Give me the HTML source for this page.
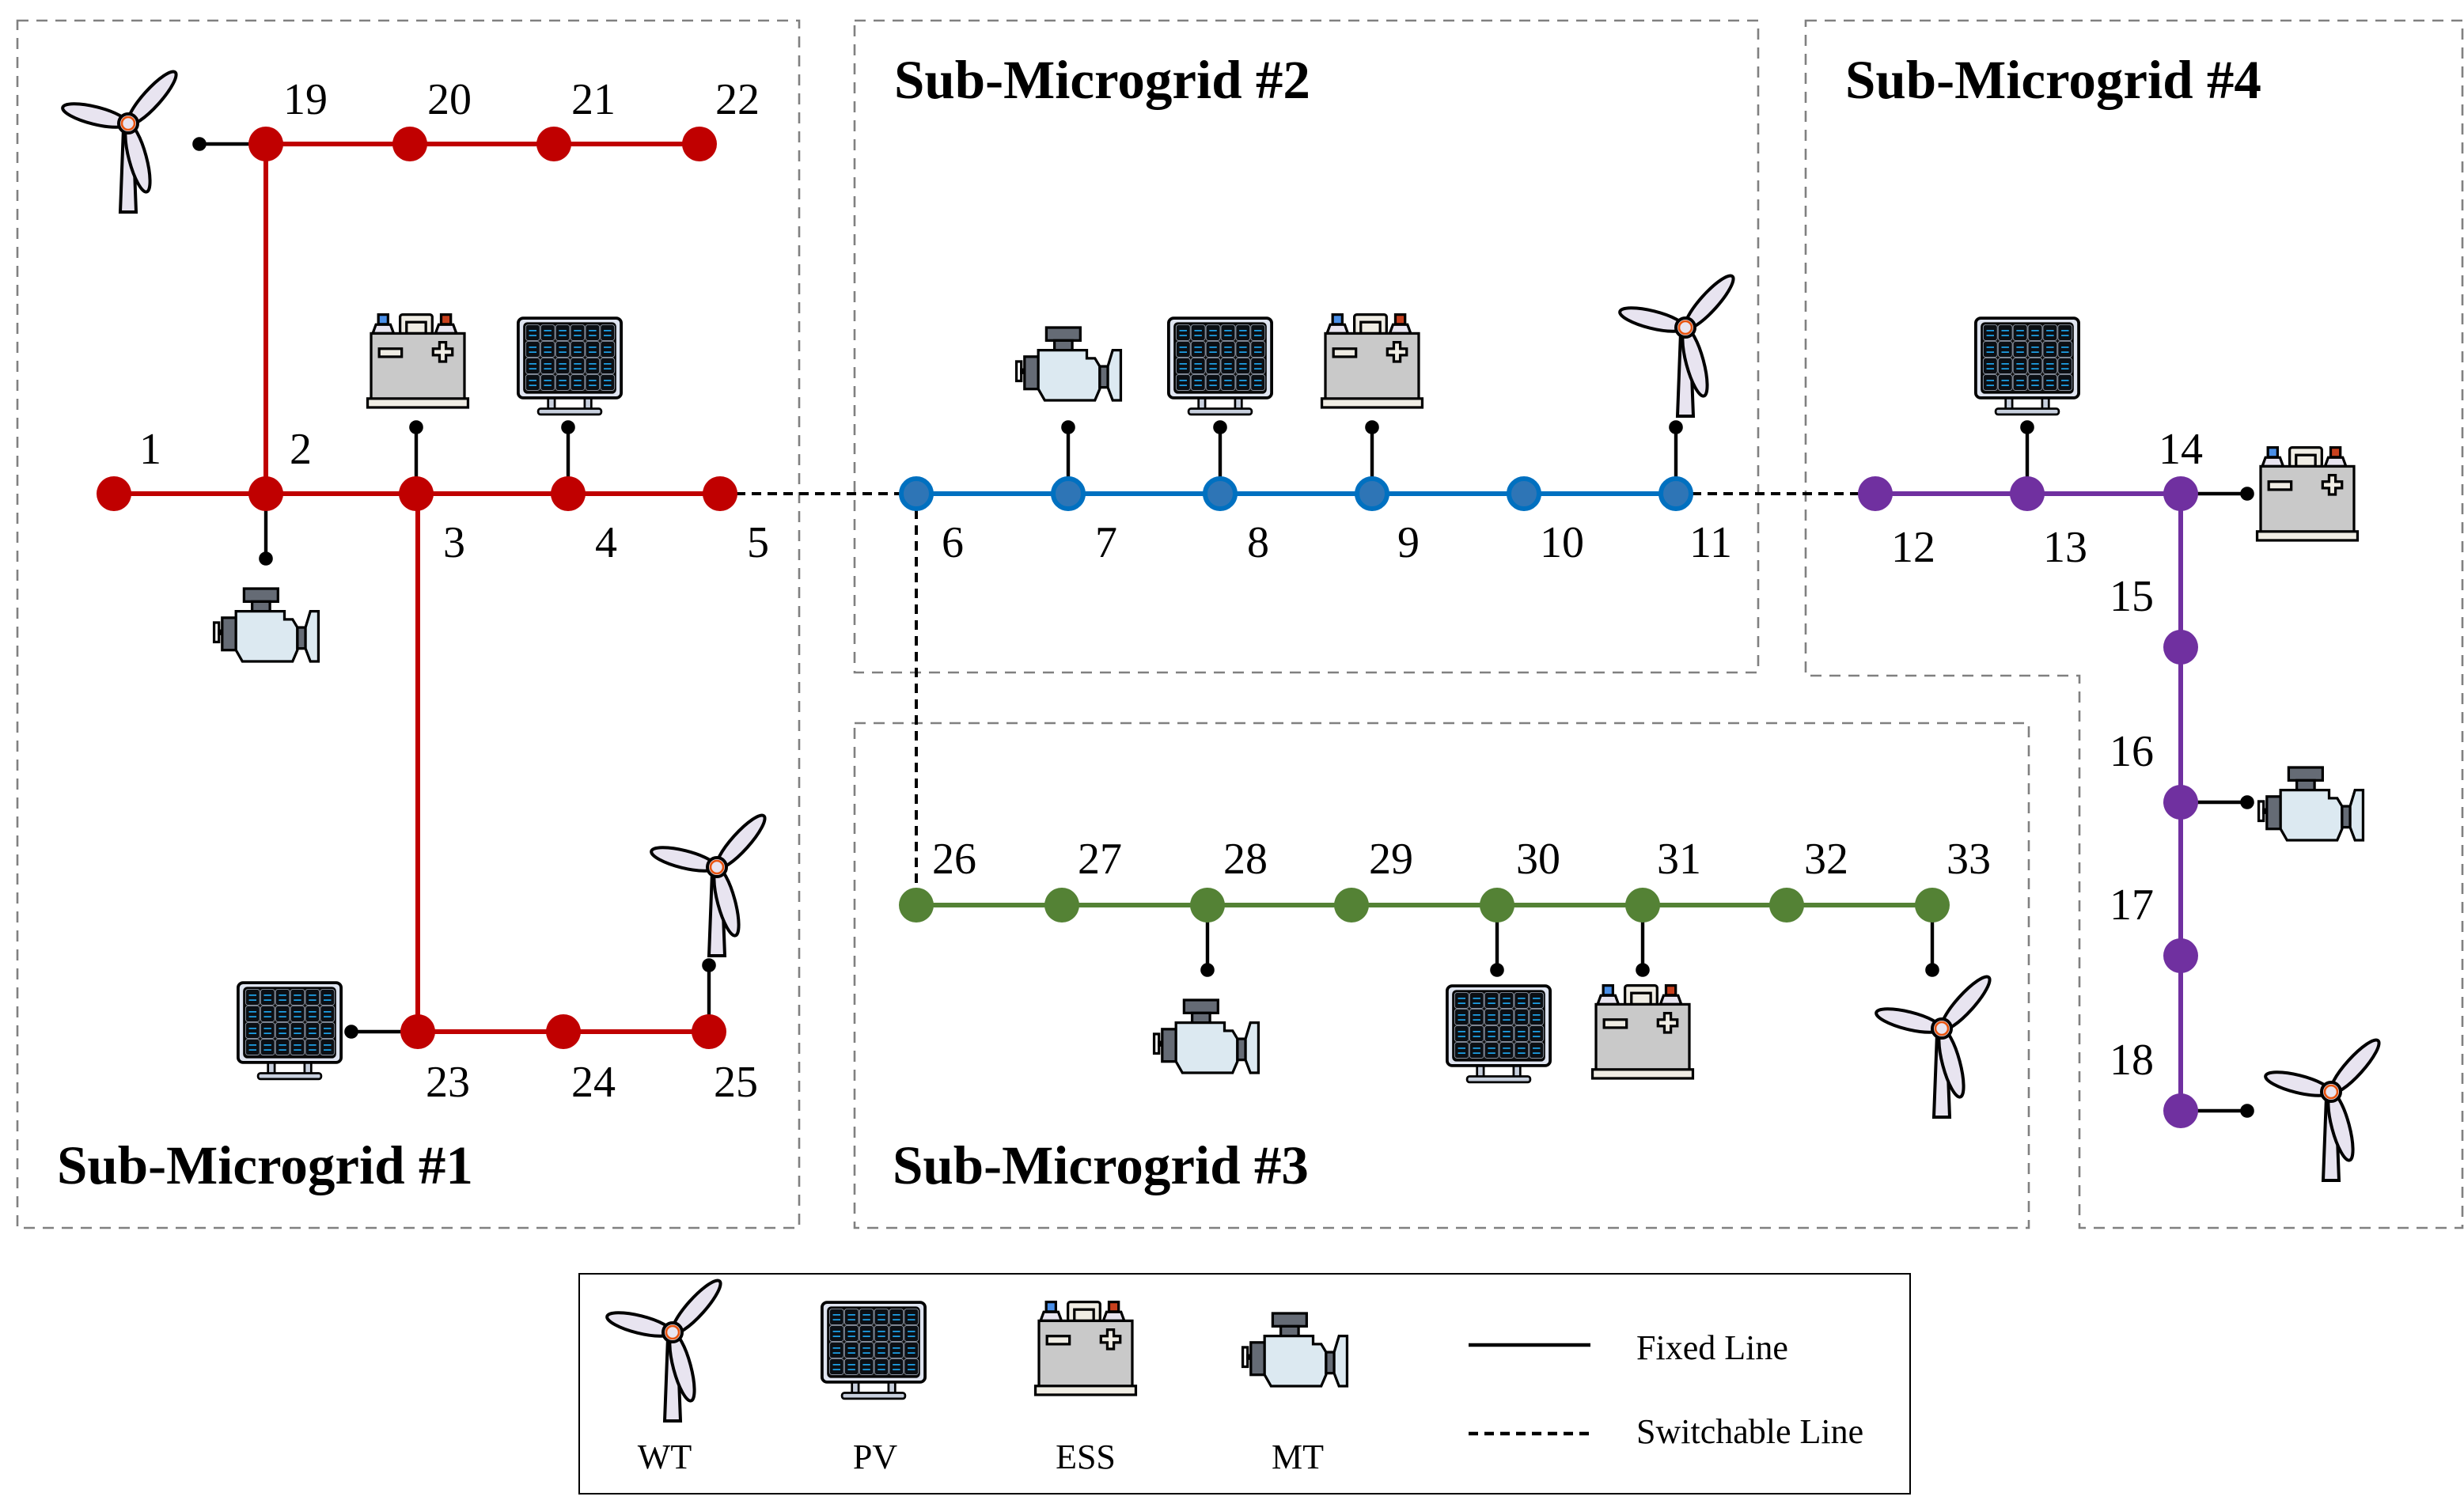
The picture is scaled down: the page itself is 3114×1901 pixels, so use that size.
<!DOCTYPE html>
<html><head><meta charset="utf-8"><style>html,body{margin:0;padding:0;background:#fff}svg{display:block}</style></head>
<body>
<svg xmlns="http://www.w3.org/2000/svg" xmlns:xlink="http://www.w3.org/1999/xlink" width="3114" height="1901" viewBox="0 0 1557 950.5">
<defs>
<symbol id="mt" viewBox="0 0 65 45" overflow="visible">
 <g stroke="#000" stroke-width="1.6" stroke-linejoin="miter">
 <rect x="0.5" y="21" width="3" height="12" fill="#fff"/>
 <rect x="3.5" y="26" width="2" height="2" fill="#000"/>
 <rect x="5.5" y="18" width="8.5" height="20" fill="#656b75"/>
 <rect x="19" y="0" width="21" height="8" fill="#656b75"/>
 <rect x="24" y="8" width="11" height="6" fill="#656b75"/>
 <polygon points="14,14 44,14 44,19 49,19 52,24 52,38 49,45 18,45 14,38" fill="#dce9f1"/>
 <rect x="52" y="24" width="5" height="13" fill="#656b75"/>
 <polygon points="57,24 60,14 65,14 65,45 60,45 57,37" fill="#dce9f1"/>
 </g>
</symbol>
<symbol id="pv" viewBox="0 0 64 60" overflow="visible">
 <rect x="19" y="48" width="4" height="8" fill="#c8d0de" stroke="#000" stroke-width="1.3"/>
 <rect x="41" y="48" width="4" height="8" fill="#c8d0de" stroke="#000" stroke-width="1.3"/>
 <rect x="13" y="55.5" width="38" height="3.5" rx="1.5" fill="#c8d0de" stroke="#000" stroke-width="1.3"/>
 <rect x="1" y="1" width="62" height="48" rx="3" fill="#dfe4f0" stroke="#000" stroke-width="1.8"/>
 <rect x="4.5" y="4" width="55" height="42" rx="2" fill="#111" stroke="#000" stroke-width="1"/>
 <g fill="#0b0f14" stroke="#9aa3b2" stroke-width="0.4">
  <rect x="5.5" y="5" width="8.5" height="9.5" rx="1.5"/><rect x="14.5" y="5" width="8.5" height="9.5" rx="1.5"/><rect x="23.5" y="5" width="8.5" height="9.5" rx="1.5"/><rect x="32.5" y="5" width="8.5" height="9.5" rx="1.5"/><rect x="41.5" y="5" width="8.5" height="9.5" rx="1.5"/><rect x="50.5" y="5" width="8.5" height="9.5" rx="1.5"/>
  <rect x="5.5" y="15" width="8.5" height="9.5" rx="1.5"/><rect x="14.5" y="15" width="8.5" height="9.5" rx="1.5"/><rect x="23.5" y="15" width="8.5" height="9.5" rx="1.5"/><rect x="32.5" y="15" width="8.5" height="9.5" rx="1.5"/><rect x="41.5" y="15" width="8.5" height="9.5" rx="1.5"/><rect x="50.5" y="15" width="8.5" height="9.5" rx="1.5"/>
  <rect x="5.5" y="25" width="8.5" height="9.5" rx="1.5"/><rect x="14.5" y="25" width="8.5" height="9.5" rx="1.5"/><rect x="23.5" y="25" width="8.5" height="9.5" rx="1.5"/><rect x="32.5" y="25" width="8.5" height="9.5" rx="1.5"/><rect x="41.5" y="25" width="8.5" height="9.5" rx="1.5"/><rect x="50.5" y="25" width="8.5" height="9.5" rx="1.5"/>
  <rect x="5.5" y="35" width="8.5" height="9.5" rx="1.5"/><rect x="14.5" y="35" width="8.5" height="9.5" rx="1.5"/><rect x="23.5" y="35" width="8.5" height="9.5" rx="1.5"/><rect x="32.5" y="35" width="8.5" height="9.5" rx="1.5"/><rect x="41.5" y="35" width="8.5" height="9.5" rx="1.5"/><rect x="50.5" y="35" width="8.5" height="9.5" rx="1.5"/>
 </g>
 <g stroke="#1ea0e6" stroke-width="0.8">
  <path d="M7.5 8.5h4.5M16.5 8.5h4.5M25.5 8.5h4.5M34.5 8.5h4.5M43.5 8.5h4.5M52.5 8.5h4.5M7.5 11.5h4.5M16.5 11.5h4.5M25.5 11.5h4.5M34.5 11.5h4.5M43.5 11.5h4.5M52.5 11.5h4.5"/>
  <path d="M7.5 18.5h4.5M16.5 18.5h4.5M25.5 18.5h4.5M34.5 18.5h4.5M43.5 18.5h4.5M52.5 18.5h4.5M7.5 21.5h4.5M16.5 21.5h4.5M25.5 21.5h4.5M34.5 21.5h4.5M43.5 21.5h4.5M52.5 21.5h4.5"/>
  <path d="M7.5 28.5h4.5M16.5 28.5h4.5M25.5 28.5h4.5M34.5 28.5h4.5M43.5 28.5h4.5M52.5 28.5h4.5M7.5 31.5h4.5M16.5 31.5h4.5M25.5 31.5h4.5M34.5 31.5h4.5M43.5 31.5h4.5M52.5 31.5h4.5"/>
  <path d="M7.5 38.5h4.5M16.5 38.5h4.5M25.5 38.5h4.5M34.5 38.5h4.5M43.5 38.5h4.5M52.5 38.5h4.5M7.5 41.5h4.5M16.5 41.5h4.5M25.5 41.5h4.5M34.5 41.5h4.5M43.5 41.5h4.5M52.5 41.5h4.5"/>
 </g>
</symbol>
<symbol id="ess" viewBox="0 0 64 59" overflow="visible">
 <g stroke="#000" stroke-width="1.6">
 <rect x="21" y="0.8" width="20" height="12" rx="1.5" fill="#f0ede4"/>
 <rect x="25" y="5.5" width="12" height="7" fill="#f0ede4"/>
 <rect x="7.5" y="0.8" width="6" height="6" fill="#4a8fe8"/>
 <polygon points="6,7 15,7 17,12.5 4,12.5" fill="#e8e4f0"/>
 <rect x="46.5" y="0.8" width="6" height="6" fill="#c8401e"/>
 <polygon points="45,7 54,7 56,12.5 43,12.5" fill="#e8e4f0"/>
 <rect x="3" y="12.5" width="58" height="41" fill="#c9c9c9"/>
 <rect x="0.8" y="53" width="62.4" height="5.5" fill="#f0ede4"/>
 <rect x="8" y="22" width="14" height="5" fill="#f0ede4"/>
 <polygon points="45.5,18 49.5,18 49.5,22 53.5,22 53.5,26 49.5,26 49.5,30 45.5,30 45.5,26 41.5,26 41.5,22 45.5,22" fill="#f0ede4"/>
 </g>
</symbol>
<symbol id="wt" viewBox="-45 -35 80 95" overflow="visible">
 <g stroke="#000" stroke-width="2" fill="#e8e4f0">
 <polygon points="-3,3 3,3 5,56 -5,56"/>
 <ellipse cx="15" cy="-16" rx="22" ry="5.5" transform="rotate(-48 15 -16)"/>
 <ellipse cx="-21" cy="-5" rx="21" ry="5.5" transform="rotate(14 -21 -5)"/>
 <ellipse cx="6" cy="22" rx="22" ry="5.5" transform="rotate(75 6 22)"/>
 <circle cx="0" cy="0" r="6" fill="#e8e4f0"/>
 </g>
 <circle cx="0" cy="0" r="4" fill="none" stroke="#e8530e" stroke-width="1.3"/>
</symbol>
</defs>

<g fill="none" stroke="#808080" stroke-width="1.3" stroke-dasharray="7,5">
 <rect x="11" y="13" width="494" height="763"/>
 <rect x="540" y="13" width="571" height="412"/>
 <path d="M1141 13 H1556 V776 H1314 V427 H1141 Z"/>
 <rect x="540" y="457" width="742" height="319"/>
</g>
<rect x="366" y="805" width="841" height="139" fill="none" stroke="#000" stroke-width="1"/>

<g font-family="Liberation Serif, serif" font-weight="bold" font-size="34.5" fill="#000">
 <text x="36" y="748">Sub-Microgrid #1</text>
 <text x="565" y="62">Sub-Microgrid #2</text>
 <text x="1166" y="62">Sub-Microgrid #4</text>
 <text x="564" y="748">Sub-Microgrid #3</text>
</g>

<g stroke="#000" stroke-width="2" stroke-dasharray="6,4" fill="none">
 <path d="M455 312 H579"/><path d="M1059 312 H1185"/><path d="M579 312 V572"/>
</g>

<g stroke="#000" stroke-width="2.2" fill="#000">
 <path d="M126 91 H168"/><circle cx="126" cy="91" r="3.3"/>
 <path d="M263 270 V312"/><circle cx="263" cy="270" r="3.3"/>
 <path d="M359 270 V312"/><circle cx="359" cy="270" r="3.3"/>
 <path d="M168 312 V353"/><circle cx="168" cy="353" r="3.3"/>
 <path d="M222 652 H264"/><circle cx="222" cy="652" r="3.3"/>
 <path d="M448 610 V652"/><circle cx="448" cy="610" r="3.3"/>
 <path d="M675 270 V312"/><circle cx="675" cy="270" r="3.3"/>
 <path d="M771 270 V312"/><circle cx="771" cy="270" r="3.3"/>
 <path d="M867 270 V312"/><circle cx="867" cy="270" r="3.3"/>
 <path d="M1059 270 V312"/><circle cx="1059" cy="270" r="3.3"/>
 <path d="M1281 270 V312"/><circle cx="1281" cy="270" r="3.3"/>
 <path d="M1378 312 H1420"/><circle cx="1420" cy="312" r="3.3"/>
 <path d="M1378 507 H1420"/><circle cx="1420" cy="507" r="3.3"/>
 <path d="M1378 702 H1420"/><circle cx="1420" cy="702" r="3.3"/>
 <path d="M763 572 V613"/><circle cx="763" cy="613" r="3.3"/>
 <path d="M946 572 V613"/><circle cx="946" cy="613" r="3.3"/>
 <path d="M1038 572 V613"/><circle cx="1038" cy="613" r="3.3"/>
 <path d="M1221 572 V613"/><circle cx="1221" cy="613" r="3.3"/>
</g>

<g stroke="#c00000" stroke-width="3" fill="none">
 <path d="M72 312 H455"/><path d="M168 91 H442"/><path d="M168 91 V312"/><path d="M264 312 V652"/><path d="M264 652 H448"/>
</g>
<g fill="#c00000">
 <ellipse cx="72" cy="312" rx="11" ry="11"/><ellipse cx="168" cy="312" rx="11" ry="11"/><ellipse cx="263" cy="312" rx="11" ry="11"/><ellipse cx="359" cy="312" rx="11" ry="11"/><ellipse cx="455" cy="312" rx="11" ry="11"/>
 <ellipse cx="168" cy="91" rx="11" ry="11"/><ellipse cx="259" cy="91" rx="11" ry="11"/><ellipse cx="350" cy="91" rx="11" ry="11"/><ellipse cx="442" cy="91" rx="11" ry="11"/>
 <ellipse cx="264" cy="652" rx="11" ry="11"/><ellipse cx="356" cy="652" rx="11" ry="11"/><ellipse cx="448" cy="652" rx="11" ry="11"/>
</g>

<path d="M579 312 H1059" stroke="#0070c0" stroke-width="3"/>
<g fill="#2e75b6" stroke="#0070c0" stroke-width="3">
 <circle cx="579" cy="312" r="9.5"/><circle cx="675" cy="312" r="9.5"/><circle cx="771" cy="312" r="9.5"/><circle cx="867" cy="312" r="9.5"/><circle cx="963" cy="312" r="9.5"/><circle cx="1059" cy="312" r="9.5"/>
</g>

<g stroke="#7030a0" stroke-width="3"><path d="M1185 312 H1378"/><path d="M1378 312 V702"/></g>
<g fill="#7030a0">
 <circle cx="1185" cy="312" r="11"/><circle cx="1281" cy="312" r="11"/><circle cx="1378" cy="312" r="11"/><circle cx="1378" cy="409" r="11"/><circle cx="1378" cy="507" r="11"/><circle cx="1378" cy="604" r="11"/><circle cx="1378" cy="702" r="11"/>
</g>

<path d="M579 572 H1221" stroke="#548235" stroke-width="3"/>
<g fill="#548235">
 <circle cx="579" cy="572" r="11"/><circle cx="671" cy="572" r="11"/><circle cx="763" cy="572" r="11"/><circle cx="854" cy="572" r="11"/><circle cx="946" cy="572" r="11"/><circle cx="1038" cy="572" r="11"/><circle cx="1129" cy="572" r="11"/><circle cx="1221" cy="572" r="11"/>
</g>

<use xlink:href="#wt" x="36" y="43" width="80" height="95"/>
<use xlink:href="#ess" x="230" y="198" width="68" height="60"/>
<use xlink:href="#pv" x="326" y="200" width="68" height="63"/>
<use xlink:href="#mt" x="133" y="372" width="70" height="46"/>
<use xlink:href="#pv" x="149" y="620" width="68" height="63"/>
<use xlink:href="#wt" x="408" y="513" width="80" height="95"/>
<use xlink:href="#mt" x="640" y="207" width="70" height="46"/>
<use xlink:href="#pv" x="737" y="200" width="68" height="63"/>
<use xlink:href="#ess" x="833" y="198" width="68" height="60"/>
<use xlink:href="#wt" x="1020" y="172" width="80" height="95"/>
<use xlink:href="#pv" x="1247" y="200" width="68" height="63"/>
<use xlink:href="#ess" x="1424" y="282" width="68" height="60"/>
<use xlink:href="#mt" x="1425" y="485" width="70" height="46"/>
<use xlink:href="#wt" x="1428" y="655" width="80" height="95"/>
<use xlink:href="#mt" x="727" y="632" width="70" height="46"/>
<use xlink:href="#pv" x="913" y="622" width="68" height="63"/>
<use xlink:href="#ess" x="1004" y="622" width="68" height="60"/>
<use xlink:href="#wt" x="1182" y="615" width="80" height="95"/>
<use xlink:href="#wt" x="380" y="807" width="80" height="95"/>
<use xlink:href="#pv" x="518" y="822" width="68" height="63"/>
<use xlink:href="#ess" x="652" y="822" width="68" height="60"/>
<use xlink:href="#mt" x="783" y="830" width="70" height="46"/>

<g font-family="Liberation Serif, serif" font-size="28" fill="#000" text-anchor="middle">
 <text x="95" y="293">1</text><text x="190" y="293">2</text><text x="287" y="352">3</text><text x="383" y="352">4</text><text x="479" y="352">5</text>
 <text x="193" y="72">19</text><text x="284" y="72">20</text><text x="375" y="72">21</text><text x="466" y="72">22</text>
 <text x="283" y="693">23</text><text x="375" y="693">24</text><text x="465" y="693">25</text>
 <text x="602" y="352">6</text><text x="699" y="352">7</text><text x="795" y="352">8</text><text x="890" y="352">9</text><text x="987" y="352">10</text><text x="1081" y="352">11</text>
 <text x="1209" y="355">12</text><text x="1305" y="355">13</text><text x="1378" y="293">14</text>
 <text x="1347" y="386">15</text><text x="1347" y="484">16</text><text x="1347" y="581">17</text><text x="1347" y="679">18</text>
 <text x="603" y="552">26</text><text x="695" y="552">27</text><text x="787" y="552">28</text><text x="879" y="552">29</text><text x="972" y="552">30</text><text x="1061" y="552">31</text><text x="1154" y="552">32</text><text x="1244" y="552">33</text>
</g>
<g font-family="Liberation Serif, serif" font-size="22" fill="#000" text-anchor="middle">
 <text x="420" y="928">WT</text><text x="553" y="928">PV</text><text x="686" y="928">ESS</text><text x="820" y="928">MT</text>
</g>
<path d="M928 850 H1005" stroke="#000" stroke-width="2.2"/>
<path d="M928 906 H1005" stroke="#000" stroke-width="2.2" stroke-dasharray="6,4"/>
<g font-family="Liberation Serif, serif" font-size="22" fill="#000">
 <text x="1034" y="859">Fixed Line</text><text x="1034" y="912">Switchable Line</text>
</g>
</svg>
</body></html>
